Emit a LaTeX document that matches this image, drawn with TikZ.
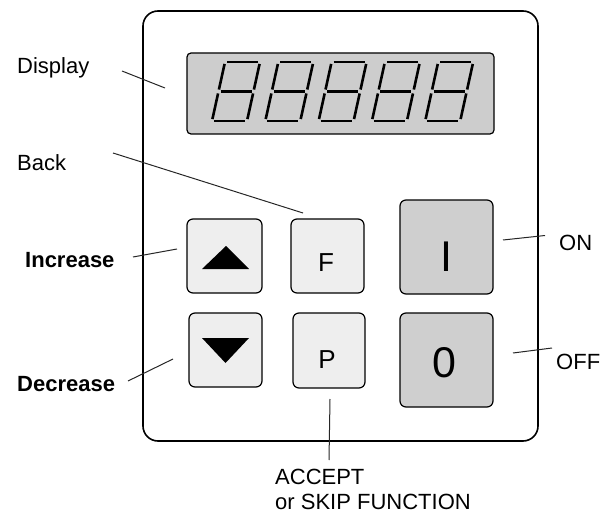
\documentclass[tikz,border=0pt]{standalone}
\usepackage{fontspec}
\setmainfont{Liberation Sans}
\definecolor{lcdgray}{HTML}{CDCDCD}
\definecolor{keylight}{HTML}{EEEEEE}
\definecolor{keydark}{HTML}{CFCFCF}
\begin{document}
\begin{tikzpicture}[x=1pt,y=-1pt,
  lbl/.style={font=\fontsize{22}{26}\selectfont, inner sep=0pt, anchor=base west},
  boldlbl/.style={lbl, font=\fontsize{22}{26}\selectfont\bfseries},
  leader/.style={line width=1pt, black!85},
  keybox/.style={draw, line width=1.2pt, rounded corners=6pt, fill=keylight, inner sep=0pt},
  powerkey/.style={keybox, fill=keydark},
  keytext/.style={font=\fontsize{26}{30}\selectfont, inner sep=0pt, anchor=base},
  bigtext/.style={font=\fontsize{43}{48}\selectfont, inner sep=0pt, anchor=base},
  seg/.style={line width=2.6pt, shorten <=2pt, shorten >=2pt},
  lcddigit/.pic={
    \coordinate (tl) at (13,0);   \coordinate (tr) at (48,0);
    \coordinate (ml) at (6.5,29.5); \coordinate (mr) at (41.5,29.5);
    \coordinate (bl) at (0,59);   \coordinate (br) at (35,59);
    \draw[seg] (tl) -- (tr);
    \draw[seg] (ml) -- (mr);
    \draw[seg] (bl) -- (br);
    \draw[seg] (tl) -- (ml);
    \draw[seg] (tr) -- (mr);
    \draw[seg] (ml) -- (bl);
    \draw[seg] (mr) -- (br);
  }]
\useasboundingbox (0,0) rectangle (613,516);

% housing
\draw[line width=1.6pt, rounded corners=15pt] (143,11) rectangle (538,441);

% LCD window with five seven-segment digits
\draw[line width=1.2pt, fill=lcdgray, rounded corners=4pt] (187,53) rectangle (494,134);
\foreach \i in {0,...,4}
  \pic at ({212+53.3*\i},62) {lcddigit};

% keys
\node[keybox, minimum width=75pt, minimum height=74pt] (up)   at (224.5,256) {};
\node[keybox, minimum width=73pt, minimum height=74pt] (down) at (225.5,350) {};
\node[keybox, minimum width=73pt, minimum height=74pt] (fkey) at (327.5,256) {};
\node[keybox, minimum width=72pt, minimum height=75pt] (pkey) at (329,350.5) {};
\node[powerkey, minimum width=93pt, minimum height=94pt] (onkey)  at (446.5,247) {};
\node[powerkey, minimum width=93pt, minimum height=94pt] (offkey) at (446.5,360) {};

\fill (226,246) -- (249,269) -- (202,269) -- cycle;
\fill (202,338) -- (249,338) -- (225.5,363) -- cycle;

\node[keytext] (ftext) at (326,271) {F};
\node[keytext] (ptext) at (327,368) {P};
\node[bigtext] (itext) at (446,271) {I};
\node[bigtext] (ztext) at (444,377) {0};

% callout labels
\node[lbl] (lblDisplay) at (17,74) {Display};
\node[lbl] (lblBack) at (17,170) {Back};
\node[boldlbl] (lblInc) at (25,267) {Increase};
\node[boldlbl] (lblDec) at (17,391) {Decrease};
\node[lbl] (lblOn) at (559,250) {ON};
\node[lbl] (lblOff) at (556,369) {OFF};
\node[lbl, align=left, anchor=north west, font=\fontsize{22}{25}\selectfont] (lblAccept) at (275,469) {ACCEPT\\or SKIP FUNCTION};

% leader lines
\coordinate (dispA) at (122,71);  \coordinate (dispB) at (165,88);
\coordinate (backA) at (113,153); \coordinate (backB) at (303,213);
\coordinate (incA)  at (133,257); \coordinate (incB)  at (177,249);
\coordinate (decA)  at (128,381); \coordinate (decB)  at (173,359);
\coordinate (onA)   at (503,240); \coordinate (onB)   at (545,235.5);
\coordinate (offA)  at (513,353); \coordinate (offB)  at (552,348);
\coordinate (accA)  at (330,399); \coordinate (accB)  at (329,460);
\draw[leader] (dispA) -- (dispB);
\draw[leader] (backA) -- (backB);
\draw[leader] (incA) -- (incB);
\draw[leader] (decA) -- (decB);
\draw[leader] (onA) -- (onB);
\draw[leader] (offA) -- (offB);
\draw[leader] (accA) -- (accB);
\end{tikzpicture}
\end{document}
